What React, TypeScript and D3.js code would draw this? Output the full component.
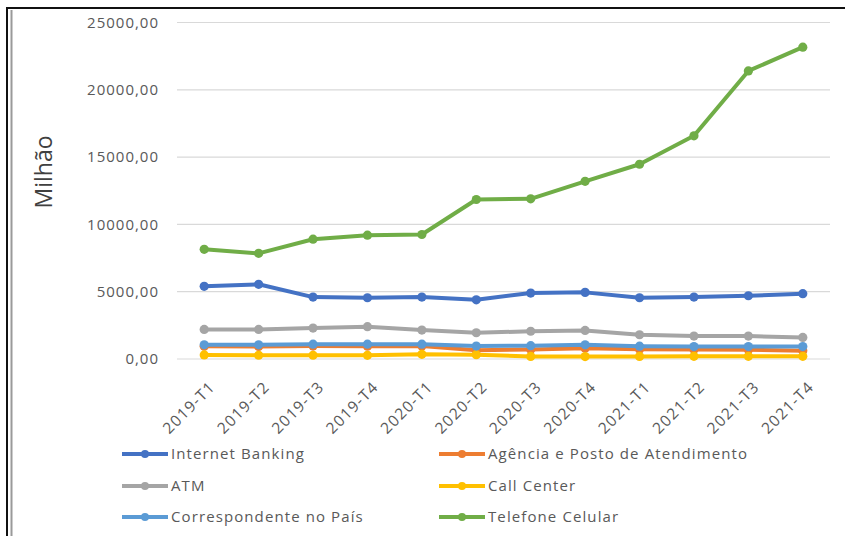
import React from "react";
import * as d3 from "d3";

const categories = ["2019-T1","2019-T2","2019-T3","2019-T4","2020-T1","2020-T2","2020-T3","2020-T4","2021-T1","2021-T2","2021-T3","2021-T4"];
const internetBanking = [5400, 5550, 4600, 4550, 4600, 4400, 4900, 4950, 4550, 4600, 4700, 4850];
const agencia = [950, 930, 960, 950, 960, 650, 700, 800, 720, 700, 680, 620];
const atm = [2200, 2200, 2300, 2400, 2150, 1950, 2060, 2120, 1800, 1700, 1700, 1600];
const callCenter = [300, 280, 280, 270, 350, 320, 190, 180, 190, 200, 200, 200];
const correspondente = [1050, 1050, 1100, 1100, 1100, 960, 990, 1050, 950, 920, 920, 920];
const telefone = [8150, 7850, 8900, 9200, 9250, 11850, 11900, 13200, 14470, 16580, 21400, 23170];
const yTicks = [0, 5000, 10000, 15000, 20000, 25000];

const seriesNames = ["Internet Banking","Agência e Posto de Atendimento","ATM","Call Center","Correspondente no País","Telefone Celular"];
const seriesValues = [internetBanking, agencia, atm, callCenter, correspondente, telefone];
const seriesColors = ["#4472C4","#ED7D31","#A5A5A5","#FFC000","#5B9BD5","#70AD47"];

const FONT = "'Open Sans', 'Noto Sans', sans-serif";
const TXT = "#595959";

export default function App() {
  const W = 845, H = 536;
  const x = d3.scaleBand<string>().domain(categories).range([177, 830]);
  const y = d3.scaleLinear().domain([0, 25000]).range([359, 22.5]);
  const cx = (c: string) => (x(c) as number) + x.bandwidth() / 2;
  const fmt = (v: number) => d3.format(".2f")(v).replace(".", ",");
  const line = d3.line<number>().x((_, i) => cx(categories[i])).y((d) => y(d));

  const legendRows = [454, 486, 517];
  const legendCols = [122, 439];

  return (
    <svg width={W} height={H} style={{ position: "absolute", left: 0, top: 0, background: "#fff" }} fontFamily={FONT}>
      <rect x={0} y={0} width={W} height={H} fill="#fff" />
      {/* frame */}
      <line x1={7} y1={7} x2={7} y2={H} stroke="#111" strokeWidth={2} />
      <line x1={6} y1={8} x2={W} y2={8} stroke="#111" strokeWidth={2} />
      <line x1={11.5} y1={10} x2={11.5} y2={H} stroke="#9a9a9a" strokeWidth={2} />

      {/* gridlines */}
      {yTicks.map((t) => (
        <g key={t}>
          <line x1={177} x2={830} y1={y(t)} y2={y(t)} stroke="#d9d9d9" strokeWidth={1.2} />
          <text x={159} y={y(t)} dy="0.35em" textAnchor="end" fontSize={15} fill={TXT} letterSpacing={1}>
            {fmt(t)}
          </text>
        </g>
      ))}

      {/* y title */}
      <text transform="translate(52,172) rotate(-90)" textAnchor="middle" fontSize={23} fill="#404040">
        Milhão
      </text>

      {/* x labels */}
      {categories.map((c) => (
        <text key={c} transform={`translate(${cx(c) + 12},${388}) rotate(-45)`} textAnchor="end" fontSize={15.5} fill={TXT} letterSpacing={1.2}>
          {c}
        </text>
      ))}

      {/* series */}
      {seriesValues.map((vals, si) => (
        <g key={si}>
          <path d={line(vals) as string} fill="none" stroke={seriesColors[si]} strokeWidth={4} strokeLinejoin="round" />
          {vals.map((v, i) => (
            <circle key={i} cx={cx(categories[i])} cy={y(v)} r={4.6} fill={seriesColors[si]} />
          ))}
        </g>
      ))}

      {/* legend */}
      {seriesNames.map((n, i) => {
        const lx = legendCols[i % 2];
        const ly = legendRows[Math.floor(i / 2)];
        return (
          <g key={n}>
            <line x1={lx} x2={lx + 46} y1={ly} y2={ly} stroke={seriesColors[i]} strokeWidth={4} />
            <circle cx={lx + 23} cy={ly} r={4} fill={seriesColors[i]} />
            <text x={lx + 49} y={ly} dy="0.35em" fontSize={15} fill={TXT} letterSpacing={1.1}>
              {n}
            </text>
          </g>
        );
      })}
    </svg>
  );
}
